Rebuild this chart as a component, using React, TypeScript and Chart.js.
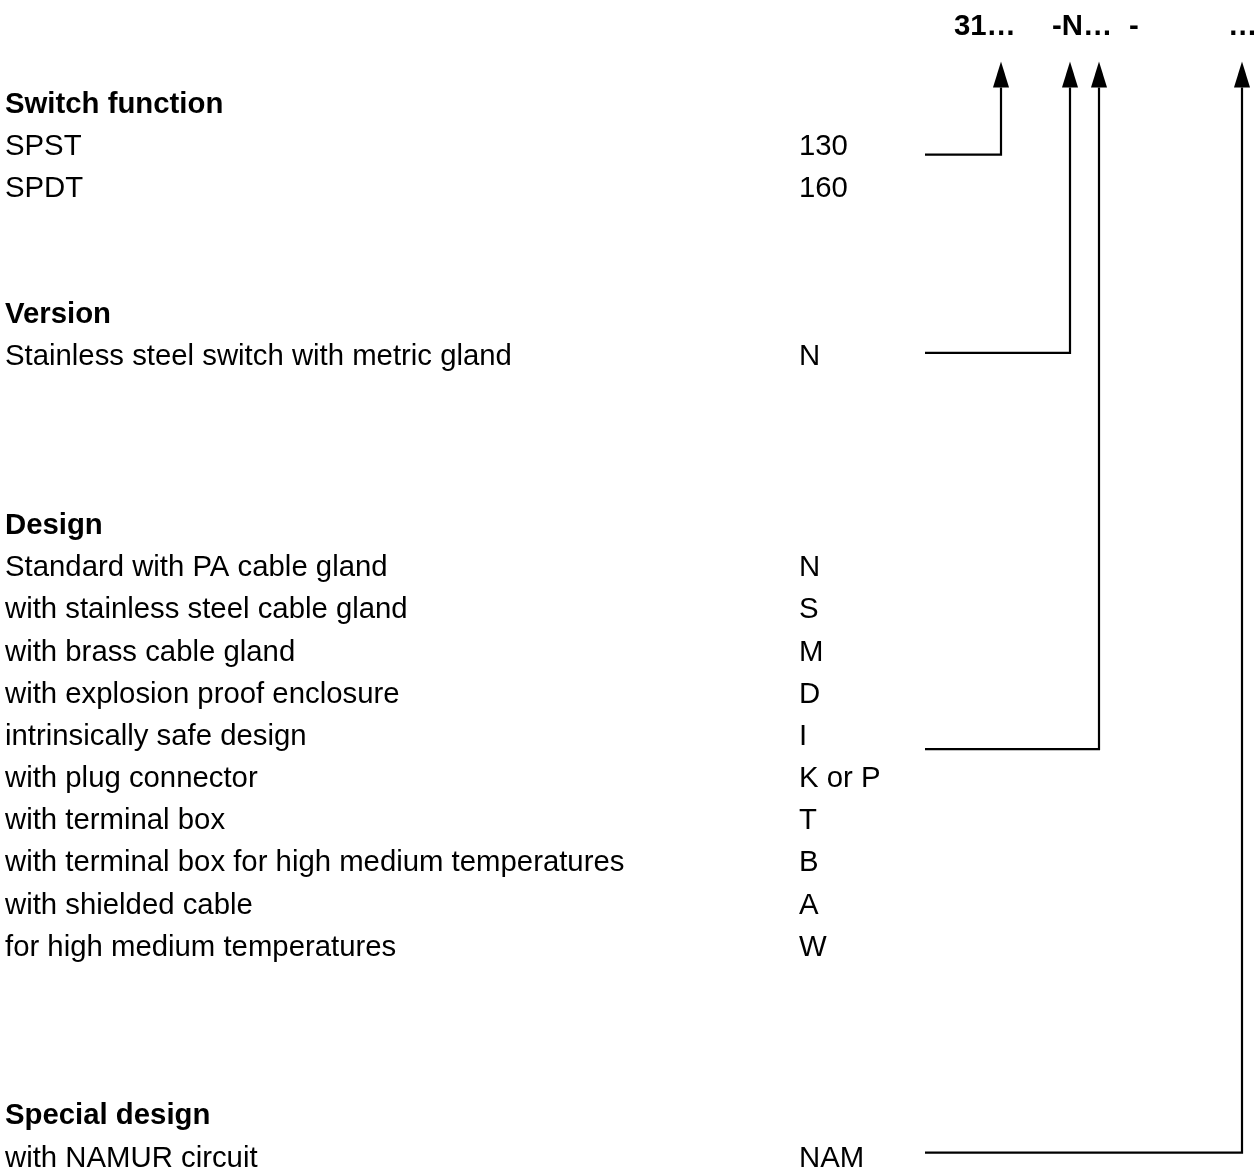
import React, { useEffect, useRef } from "react";
import { Chart, registerables } from "chart.js";

Chart.register(...registerables);

// ---- Data ----
const headerParts = ["31…", "-N…", "-", "…"];

const groupTitles = ["Switch function", "Version", "Design", "Special design"];
const groupRows = [0, 5, 10, 24];

const optionLabels = [
  "SPST",
  "SPDT",
  "Stainless steel switch with metric gland",
  "Standard with PA cable gland",
  "with stainless steel cable gland",
  "with brass cable gland",
  "with explosion proof enclosure",
  "intrinsically safe design",
  "with plug connector",
  "with terminal box",
  "with terminal box for high medium temperatures",
  "with shielded cable",
  "for high medium temperatures",
  "with NAMUR circuit",
];
const optionCodes = ["130", "160", "N", "N", "S", "M", "D", "I", "K or P", "T", "B", "A", "W", "NAM"];
const optionRows = [1, 2, 6, 11, 12, 13, 14, 15, 16, 17, 18, 19, 20, 25];

// connectors: level (in rows) of horizontal leg, target header column index
const connectorLevels = [1.0, 5.7, 15.1, 24.67];
const connectorTargets = [0, 1, 2, 3];

// ---- Layout (pixels / row units) ----
const W = 1257;
const H = 1171;
const ROW_H = 42.16;
const BASE0 = 112.5;
const Y_MIN = -BASE0 / ROW_H;
const Y_MAX = (H - BASE0) / ROW_H;
const LABEL_X = 5;
const CODE_X = 799;
const LINE_START_X = 925;
const ARROW_X = [1001, 1070, 1099, 1242];
const HEADER_X = [954, 1052, 1129, 1228];
const HEADER_ROW = (35 - BASE0) / ROW_H;
const ARROW_TIP = (61.5 - BASE0) / ROW_H;
const ARROW_BASE = (87.5 - BASE0) / ROW_H;
const FONT_SIZE = 29.33;
const FAMILY = '"Liberation Sans", Arial, sans-serif';

const textPlugin = {
  id: "diagramText",
  afterDatasetsDraw(chart: any) {
    const ctx = chart.ctx as CanvasRenderingContext2D;
    const xs = chart.scales.x;
    const ys = chart.scales.y;
    ctx.save();
    ctx.fillStyle = "#000";
    ctx.textBaseline = "alphabetic";
    ctx.textAlign = "left";
    // header
    ctx.font = `bold ${FONT_SIZE}px ${FAMILY}`;
    headerParts.forEach((t, i) => {
      ctx.fillText(t, xs.getPixelForValue(HEADER_X[i]), ys.getPixelForValue(HEADER_ROW));
    });
    groupTitles.forEach((t, i) => {
      ctx.fillText(t, xs.getPixelForValue(LABEL_X), ys.getPixelForValue(groupRows[i]));
    });
    ctx.font = `${FONT_SIZE}px ${FAMILY}`;
    optionLabels.forEach((t, i) => {
      const y = ys.getPixelForValue(optionRows[i]);
      ctx.fillText(t, xs.getPixelForValue(LABEL_X), y);
      ctx.fillText(optionCodes[i], xs.getPixelForValue(CODE_X), y);
    });
    // arrowheads
    connectorTargets.forEach((c) => {
      const x = xs.getPixelForValue(ARROW_X[c]);
      const tip = ys.getPixelForValue(ARROW_TIP);
      const base = ys.getPixelForValue(ARROW_BASE);
      ctx.beginPath();
      ctx.moveTo(x, tip);
      ctx.lineTo(x - 8, base);
      ctx.lineTo(x + 8, base);
      ctx.closePath();
      ctx.fill();
    });
    ctx.restore();
  },
};

export default function App() {
  const ref = useRef<HTMLCanvasElement | null>(null);
  useEffect(() => {
    document.body.style.margin = "0";
    const canvas = ref.current!;
    const datasets = connectorLevels.map((lvl, i) => {
      const ax = ARROW_X[connectorTargets[i]];
      return {
        data: [
          { x: LINE_START_X, y: lvl },
          { x: ax, y: lvl },
          { x: ax, y: ARROW_BASE },
        ],
        showLine: true,
        borderColor: "#000",
        borderWidth: 2.2,
        pointRadius: 0,
        fill: false,
        tension: 0,
        borderJoinStyle: "miter" as const,
        borderCapStyle: "butt" as const,
      };
    });
    const chart = new Chart(canvas, {
      type: "scatter",
      data: { datasets },
      options: {
        animation: false,
        responsive: false,
        devicePixelRatio: 1,
        layout: { padding: 0 },
        plugins: { legend: { display: false }, tooltip: { enabled: false }, title: { display: false } },
        scales: {
          x: { type: "linear", min: 0, max: W, display: false },
          y: { type: "linear", min: Y_MIN, max: Y_MAX, reverse: true, display: false },
        },
      },
      plugins: [textPlugin],
    });
    return () => chart.destroy();
  }, []);
  return (
    <div style={{ width: W, height: H, background: "#fff" }}>
      <canvas ref={ref} width={W} height={H} style={{ display: "block" }} />
    </div>
  );
}
